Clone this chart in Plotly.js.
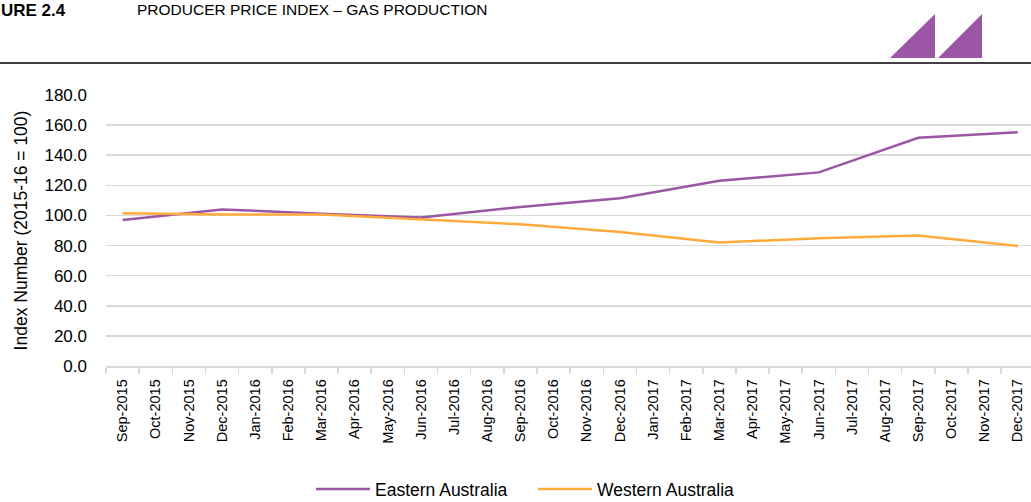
<!DOCTYPE html>
<html><head><meta charset="utf-8">
<script src="https://cdn.plot.ly/plotly-3.0.1.min.js"></script>
<style>html,body{margin:0;padding:0;background:#fff}#chart{width:1031px;height:502px}</style>
</head><body><div id="chart"></div>
<script>
const months = ["Sep-2015","Oct-2015","Nov-2015","Dec-2015","Jan-2016","Feb-2016","Mar-2016","Apr-2016","May-2016","Jun-2016","Jul-2016","Aug-2016","Sep-2016","Oct-2016","Nov-2016","Dec-2016","Jan-2017","Feb-2017","Mar-2017","Apr-2017","May-2017","Jun-2017","Jul-2017","Aug-2017","Sep-2017","Oct-2017","Nov-2017","Dec-2017"];
const quarters = ["Sep-2015","Dec-2015","Mar-2016","Jun-2016","Sep-2016","Dec-2016","Mar-2017","Jun-2017","Sep-2017","Dec-2017"];
const eastern = [97.0,104.0,101.2,98.7,105.6,111.4,123.0,128.6,151.6,155.2];
const western = [101.4,100.7,100.7,97.4,94.1,89.0,82.1,84.8,86.6,79.7];

const W=1031,H=502,M={l:106,r:0,t:95,b:136,autoexpand:false};
const px=x=>(x-M.l)/(W-M.l-M.r);
const py=y=>(H-M.b-y)/(H-M.t-M.b);
const FONT="'Liberation Sans',Arial,sans-serif";
const purple="#9B56A5", orange="#FFAB3C";

const traces=[
 {x:quarters,y:eastern,name:"Eastern Australia",type:"scatter",mode:"lines",line:{color:purple,width:2.5}},
 {x:quarters,y:western,name:"Western Australia",type:"scatter",mode:"lines",line:{color:orange,width:2.5}}
];
function tri(x0,x1,yb,yt){return `M${px(x0)},${py(yb)} L${px(x1)},${py(yb)} L${px(x1)},${py(yt)} Z`;}
const layout={
 width:W,height:H,margin:M,paper_bgcolor:"#fff",plot_bgcolor:"#fff",
 font:{family:FONT,color:"#000",size:16},
 showlegend:true,
 legend:{orientation:"h",x:px(311),xanchor:"left",y:py(489),yanchor:"middle",itemwidth:54,
   entrywidth:153,entrywidthmode:"pixels",font:{size:17.5,family:FONT}},
 xaxis:{type:"category",categoryorder:"array",categoryarray:months,range:[-0.5,27.4],automargin:false,
   tickson:"boundaries",ticks:"outside",ticklen:6,tickcolor:"#d9d9d9",tickwidth:1.5,
   showline:true,linecolor:"#d9d9d9",linewidth:1.5,showgrid:false,tickangle:-90,ticklabelstandoff:6,
   tickfont:{size:14.5,family:FONT},fixedrange:true},
 yaxis:{range:[0,180],dtick:20,tickformat:".1f",gridcolor:"#d9d9d9",gridwidth:1.5,zeroline:false,automargin:false,
   showline:false,tickfont:{size:17,family:FONT},ticks:"",ticklabelstandoff:18,
   title:{text:"Index Number (2015-16 = 100)",font:{size:17.5,family:FONT},standoff:12}},
 shapes:[
  {type:"line",xref:"paper",yref:"paper",x0:px(0),x1:px(W),y0:py(63),y1:py(63),line:{color:"#000",width:1.3}},
  {type:"path",xref:"paper",yref:"paper",path:tri(890,935,58,14),fillcolor:purple,line:{width:0}},
  {type:"path",xref:"paper",yref:"paper",path:tri(938,982,58,14),fillcolor:purple,line:{width:0}}
 ],
 annotations:[
  {xref:"paper",yref:"paper",x:px(0),y:py(0),xanchor:"left",yanchor:"top",showarrow:false,borderpad:0,
   text:"<b>URE 2.4</b>",font:{size:17,family:FONT,color:"#000"}},
  {xref:"paper",yref:"paper",x:px(136),y:py(0),xanchor:"left",yanchor:"top",showarrow:false,borderpad:0,
   text:"PRODUCER PRICE INDEX – GAS PRODUCTION",font:{size:15.5,family:FONT,color:"#000"}}
 ]
};
Plotly.newPlot("chart",traces,layout,{displayModeBar:false,staticPlot:true});
</script></body></html>
